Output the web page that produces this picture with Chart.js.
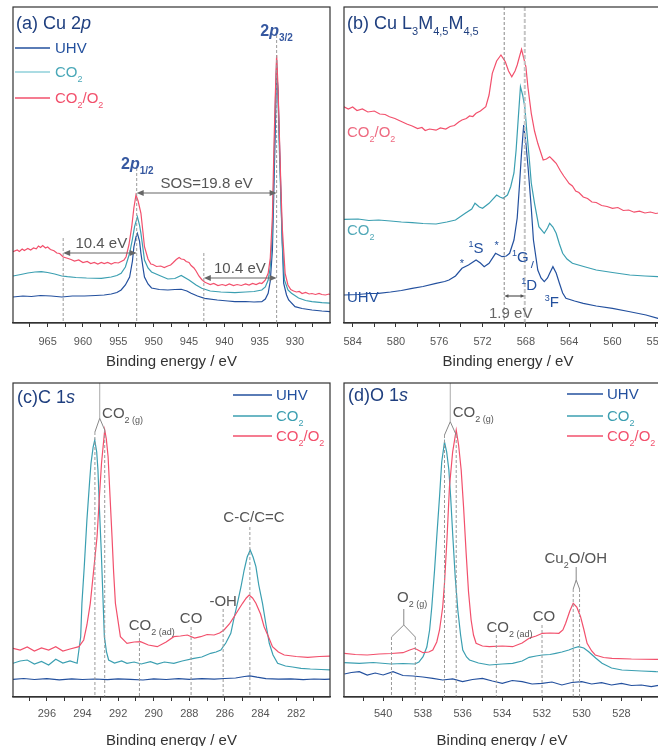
<!DOCTYPE html>
<html>
<head>
<meta charset="utf-8">
<script src="https://cdn.jsdelivr.net/npm/chart.js@4.4.1/dist/chart.umd.min.js"></script>
<style>
html, body { margin: 0; padding: 0; background: #fff; overflow: hidden; width: 658px; height: 746px; }
.panel { position: absolute; }
</style>
</head>
<body>
<div class="panel" style="left:0;top:0"><canvas id="pa" width="340" height="372"></canvas></div>
<div class="panel" style="left:330px;top:0"><canvas id="pb" width="360" height="372"></canvas></div>
<div class="panel" style="left:0;top:372px"><canvas id="pc" width="340" height="376"></canvas></div>
<div class="panel" style="left:330px;top:372px"><canvas id="pd" width="360" height="376"></canvas></div>
<script>
// series labels
var seriesNames = ['UHV', 'CO2', 'CO2/O2'];

// (a) Cu 2p  [binding energy eV, intensity a.u.]
var cu2pUhv = [[969.9,26],[968.5,27],[967.3,26.5],[966.0,27.5],[964.5,27],[963.0,26],[961.5,27],[959.8,27],[958.2,27.5],[957.0,28],[956.0,29],[955.2,30.5],[954.6,33],[954.0,38],[953.4,46],[953.0,62],[952.8,76],[952.5,86],[952.3,89.7],[952.0,82],[951.8,69.7],[951.5,55],[951.3,46],[950.8,39],[950.3,35],[949.2,33.5],[948.0,33],[947.0,33.5],[946.1,33.7],[945.3,32],[944.7,29.7],[943.8,27],[942.8,24.7],[941.0,23],[939.5,22],[938.5,21.3],[937.0,21.5],[935.8,21],[934.7,21.3],[934.2,24],[933.8,29.7],[933.5,42],[933.2,73],[933.0,130],[932.8,189.7],[932.6,256],[932.4,230],[932.1,156],[931.8,80],[931.6,39.7],[931.2,28],[930.9,23],[930.0,16.3],[929.0,14.5],[927.6,13],[926.2,12],[924.7,11.3]];
var cu2pCo2 = [[969.9,47],[968.8,48.5],[967.8,50],[966.8,51],[965.9,51.3],[965.0,50.5],[964.0,49],[963.0,47],[962.2,46.3],[961.0,45.5],[959.5,45],[957.4,44.7],[956.0,46],[955.2,47.5],[954.6,49.7],[954.0,56],[953.4,69.7],[953.0,84],[952.7,96.3],[952.3,106.3],[952.0,98],[951.8,89.7],[951.5,74],[951.3,63],[950.8,55],[950.3,51],[949.0,47],[948.0,44],[947.0,44.5],[946.1,47.5],[945.0,43],[944.0,38],[943.2,34.7],[942.0,32],[940.5,31],[938.5,30.3],[937.0,31],[935.8,31.5],[934.7,33],[934.2,36],[933.8,43],[933.5,56],[933.2,89.7],[933.0,150],[932.8,215],[932.6,263],[932.4,225],[932.2,170],[932.0,123],[931.8,80],[931.5,43],[931.0,33],[930.5,29.7],[929.5,25],[928.5,22.5],[927.6,21.3],[926.2,20.3],[924.7,19.7]];
var cu2pCo2O2 = [[969.9,71.3],[969.3,73],[969.0,71.5],[968.6,74],[968.3,72.5],[967.8,74.5],[967.4,73],[967.0,75],[966.6,74.2],[966.3,77],[966.0,75.5],[965.7,77.5],[965.3,75],[965.0,76],[964.6,73.5],[964.1,72.3],[963.7,70],[963.3,69.5],[962.8,66],[962.2,64.7],[961.7,63.5],[961.2,62],[960.6,63],[960.0,60.5],[959.4,61.5],[958.9,59.5],[958.4,60.5],[957.9,59],[957.4,60.5],[957.0,59.5],[956.5,60.5],[956.0,59],[955.5,60.5],[955.0,60],[954.6,61.5],[954.2,63],[953.9,66.3],[953.5,78],[953.1,96.3],[952.8,115],[952.5,128],[952.2,122],[951.8,109.7],[951.5,90],[951.3,76.3],[950.8,64],[950.4,59],[950.1,58.5],[949.6,56.5],[949.0,57],[948.5,55.5],[948.0,57],[947.6,58],[947.3,60],[946.8,63.5],[946.4,65.5],[946.1,64],[945.7,63.5],[945.4,61.5],[945.0,60.5],[944.7,57.5],[944.3,55],[944.0,52],[943.6,47],[943.2,43.5],[942.8,41],[942.5,40],[942.0,38.5],[941.5,39.5],[940.9,37.5],[940.3,38.5],[939.8,37.5],[939.3,39],[938.7,37.5],[938.2,38.5],[937.6,37.5],[937.0,39],[936.5,38],[936.0,39.5],[935.5,38.5],[935.0,40],[934.7,39.5],[934.4,41.5],[934.2,43],[933.8,49.7],[933.5,65],[933.2,106.3],[933.0,170],[932.8,225],[932.6,268],[932.4,235],[932.2,185],[932.0,136.3],[931.8,95],[931.4,49.7],[931.0,38],[930.6,33.5],[930.2,32],[929.8,31],[929.4,31.5],[929.0,29.5],[928.5,30.5],[928.0,29],[927.6,29.5],[927.1,28.5],[926.6,29.5],[926.2,28.5],[925.7,28],[925.2,29],[924.7,28]];

// (b) Cu L3M4,5M4,5
var lmmUhv = [[584.8,28],[583.5,28.5],[582.5,29.5],[581.6,29.7],[580.5,31],[579.5,32.5],[578.5,34.7],[577.5,36.5],[576.3,39.7],[575.5,41.5],[575.1,43],[574.5,47],[573.9,54.7],[573.3,58],[572.6,63],[572.2,60],[571.85,56.3],[571.4,59.7],[570.8,69.7],[570.5,68],[570.2,66.3],[569.8,67],[569.5,69.7],[569.1,83],[568.8,105],[568.6,136.3],[568.4,170],[568.2,198],[568.0,180],[567.8,156.3],[567.5,115],[567.3,83],[566.9,53],[566.6,45],[566.3,41.3],[566.0,45],[565.8,49.7],[565.5,56.3],[565.2,50],[564.9,39.7],[564.6,30],[564.3,24.7],[563.5,22],[562.7,19.7],[561.5,17],[560.0,14.7],[558.5,11.5],[556.9,8],[555.8,4.7],[554.5,2.5]];
var lmmCo2 = [[584.8,103.7],[583.5,104],[582.5,102.5],[581.6,103],[580.5,102],[579.5,101],[578.5,100.3],[577.5,99.5],[576.3,99],[575.3,101],[574.5,103],[573.6,109.7],[573.0,114],[572.7,119.7],[572.3,116],[572.0,114.7],[571.4,119.7],[570.7,128],[570.4,126],[570.1,124.7],[569.7,128],[569.4,136.3],[569.1,150],[568.9,173],[568.7,205],[568.5,236.3],[568.3,228],[568.1,216.3],[567.9,190],[567.7,166.3],[567.5,140],[567.2,119.7],[566.8,96.3],[566.3,89.7],[566.0,95],[565.8,99.7],[565.5,96],[565.2,89.7],[564.9,79],[564.6,69.7],[564.2,64],[563.7,59.7],[562.5,56],[561.5,53],[560.0,50.5],[558.4,48],[557.0,47],[555.8,46.3],[554.5,45.5]];
var lmmCo2O2 = [[584.8,216.3],[584.4,214],[584.0,216],[583.6,212.5],[583.1,214],[582.6,211],[582.0,212],[581.5,209],[581.0,208.5],[580.6,206.3],[580.1,204.5],[579.5,201.5],[579.0,199],[578.5,197],[578.0,194.5],[577.6,195.5],[577.3,192.5],[576.9,194],[576.3,192.8],[575.9,195],[575.4,194],[575.0,196.5],[574.6,197.5],[574.2,201],[573.9,203],[573.5,204.5],[573.2,207],[572.9,206.5],[572.6,209.7],[572.2,212],[571.7,216.3],[571.4,228],[571.1,249.7],[570.7,262],[570.3,268],[569.9,261.3],[569.6,252],[569.3,246.3],[569.0,252],[568.8,258],[568.6,266],[568.4,273.7],[568.2,265],[568.0,256.3],[567.8,235],[567.5,209.7],[567.2,192],[566.9,179.7],[566.4,163],[566.1,164],[565.8,166.3],[565.5,163],[565.2,159.7],[564.8,152],[564.5,147],[564.3,144],[564.0,139.5],[563.7,137],[563.4,132],[563.1,130.5],[562.7,126],[562.3,124.5],[561.9,121],[561.5,120.5],[561.0,117.5],[560.5,116.5],[560.0,114.7],[559.5,115.5],[559.0,112.5],[558.5,113],[558.0,110.8],[557.5,111.8],[557.0,110],[556.5,111],[556.0,109.5],[555.5,110.5],[555.0,109.5],[554.5,109]];

// (c) C 1s
var c1sUhv = [[297.9,17.7],[297.3,18.5],[296.7,17.5],[296.0,18.3],[295.3,17.2],[294.6,18.2],[294.0,17.5],[293.3,18.0],[292.6,17.3],[292.0,18.2],[291.3,17.6],[290.6,17.0],[290.0,18.1],[289.3,17.5],[288.6,18.3],[288.0,17.6],[287.3,18.4],[286.6,17.8],[286.0,18.5],[285.4,19.0],[284.9,20.5],[284.6,21.2],[284.2,19.8],[283.7,18.4],[283.0,17.8],[282.3,18.2],[281.6,17.4],[281.0,18.0],[280.4,17.6],[280.0,18.0]];
var c1sCo2 = [[297.9,33.7],[297.5,36],[297.1,37],[296.7,33],[296.3,35.5],[295.9,32],[295.5,37.7],[295.1,34],[294.7,36],[294.3,33.7],[294.1,60],[294.03,93.7],[293.9,130],[293.75,177],[293.6,215],[293.52,233.7],[293.4,250],[293.31,257],[293.2,245],[293.13,227],[293.05,190],[292.94,143.7],[292.85,100],[292.77,60.3],[292.65,45],[292.53,37],[292.2,34],[291.8,36],[291.5,33.7],[291.1,35],[290.7,33],[290.18,35.3],[289.8,33],[289.4,35],[288.87,33.7],[288.4,36],[287.74,38.7],[287.3,40],[286.8,43.7],[286.5,45],[286.23,47],[285.95,54],[285.67,63.7],[285.5,78],[285.3,93.7],[285.1,110],[284.92,127],[284.75,140],[284.58,147],[284.42,140],[284.26,130.3],[284.1,112],[283.89,93.7],[283.7,73],[283.51,53.7],[283.3,42],[283.04,33.7],[282.6,31],[282.2,30],[281.73,28.7],[281.2,28],[280.6,27.5],[280.0,27]];
var c1sCo2O2 = [[297.9,48.7],[297.5,47],[297.1,50],[296.7,46],[296.3,49],[295.9,47],[295.5,50.3],[295.1,46],[294.7,48],[294.2,50.3],[293.93,57],[293.75,72],[293.56,93.7],[293.38,125],[293.18,160.3],[293.05,200],[292.93,233.7],[292.75,267],[292.66,258],[292.56,240.3],[292.45,200],[292.34,160.3],[292.25,125],[292.15,93.7],[291.87,60.3],[291.5,53.7],[291.1,55],[290.74,55.3],[290.3,52],[289.8,50.3],[289.3,55],[288.87,60.3],[288.5,61],[288.11,62],[287.7,59],[287.36,60.3],[287.0,62.5],[286.61,62],[286.3,64],[286.05,67],[285.75,73],[285.48,80.3],[285.25,87],[285.01,93.7],[284.8,99],[284.64,102],[284.45,99],[284.26,93.7],[284.0,83],[283.8,70.3],[283.55,60],[283.33,50.3],[283.0,45],[282.67,42],[282.0,40.5],[281.35,39.7],[280.7,40.5],[280.0,41]];

// (d) O 1s
var o1sUhv = [[541.95,23],[541.6,24.5],[541.2,25.3],[540.8,22],[540.4,24],[540.0,22],[539.5,25.3],[539.0,21.5],[538.5,21],[538.0,20],[537.5,18.7],[537.0,17],[536.5,18.2],[536.0,15.3],[535.5,17.5],[535.0,18.7],[534.5,16],[534.0,13.7],[533.5,16.5],[533.0,15.3],[532.5,13],[532.0,13.7],[531.5,15],[531.0,12],[530.5,14.5],[530.0,15.3],[529.5,13],[529.0,14.3],[528.5,12],[528.0,13.7],[527.5,11.5],[527.0,12],[526.5,10.3],[526.0,12],[525.1,11]];
var o1sCo2 = [[541.95,34.3],[541.2,33.7],[540.5,34.5],[539.6,33],[539.0,33.5],[538.4,33],[538.2,35],[537.99,40.3],[537.8,50],[537.66,67],[537.55,90],[537.41,127],[537.3,160],[537.16,200.3],[537.05,235],[536.91,255],[536.8,245],[536.69,227],[536.6,200],[536.49,160.3],[536.37,120],[536.24,87],[536.1,62],[535.99,47],[535.8,40],[535.65,37],[535.2,34],[534.65,32],[534.0,33],[533.48,33.7],[533.0,36],[532.65,39.7],[532.3,41],[531.98,42],[531.6,42.5],[531.31,43.7],[531.0,45],[530.65,47],[530.4,49],[530.15,50.3],[529.9,49],[529.65,45.3],[529.3,39],[528.98,33.7],[528.5,29],[527.98,27],[527.0,26],[526.26,25.3],[525.1,25]];
var o1sCo2O2 = [[541.95,43.7],[541.4,42.5],[540.8,42],[540.2,43],[539.6,43.5],[539.0,44.3],[538.66,47],[538.41,48.7],[538.2,46.5],[537.99,44.3],[537.7,45],[537.5,47],[537.3,55],[537.16,67],[537.0,90],[536.91,113.7],[536.78,160],[536.66,210.3],[536.5,245],[536.32,267],[536.2,252],[536.07,227],[535.95,190],[535.82,143.7],[535.7,105],[535.57,77],[535.45,62],[535.32,53.7],[535.0,51],[534.65,50.3],[534.0,51],[533.48,50.3],[533.0,54],[532.65,58.7],[532.3,61],[531.98,63.7],[531.6,64],[531.15,63.7],[530.95,67],[530.81,73.7],[530.6,86],[530.43,93.7],[530.25,90],[530.06,80.3],[529.9,68],[529.73,53.7],[529.5,46],[529.32,42],[528.9,39.5],[528.48,38.7],[527.5,38],[526.26,37.7],[525.1,37.5]];

var FONT = '"Liberation Sans", Arial, sans-serif';
var BLUE = '#23509e', TEAL = '#3b9fb1', RED = '#f2506c';
var TITLE = '#1f3f7f', GRAY = '#555', DASH = '#9a9a9a';

// simple rich text: _{sub} ^{sup} |italic|
function richText(ctx, str, x, y, size, color, align, bold) {
  var parts = [], re = /_\{([^}]*)\}|\^\{([^}]*)\}|\|([^|]*)\||([^_^|]+)/g, m;
  while ((m = re.exec(str))) {
    if (m[1] != null) parts.push({t: m[1], k: 'sub'});
    else if (m[2] != null) parts.push({t: m[2], k: 'sup'});
    else if (m[3] != null) parts.push({t: m[3], k: 'it'});
    else parts.push({t: m[4], k: ''});
  }
  function f(p) {
    var s = (p.k === 'sub' || p.k === 'sup') ? Math.round(size * 0.62) : size;
    return (p.k === 'it' ? 'italic ' : '') + (bold ? 'bold ' : '') + s + 'px ' + FONT;
  }
  var w = 0;
  parts.forEach(function (p) { ctx.font = f(p); p.w = ctx.measureText(p.t).width; w += p.w; });
  var cx = align === 'center' ? x - w / 2 : (align === 'right' ? x - w : x);
  var base = y + size * 0.36;
  ctx.save();
  ctx.fillStyle = color;
  ctx.textBaseline = 'alphabetic';
  ctx.textAlign = 'left';
  parts.forEach(function (p) {
    ctx.font = f(p);
    var dy = p.k === 'sub' ? size * 0.3 : (p.k === 'sup' ? -size * 0.42 : 0);
    ctx.fillText(p.t, cx, base + dy);
    cx += p.w;
  });
  ctx.restore();
}

function tools(chart) {
  var ctx = chart.ctx, xs = chart.scales.x, ys = chart.scales.y;
  var X = function (e) { return xs.getPixelForValue(e); };
  var Y = function (v) { return ys.getPixelForValue(v); };
  return {
    ctx: ctx, X: X, Y: Y, area: chart.chartArea,
    vline: function (e, v0, v1, color, width, dash) {
      ctx.save();
      ctx.strokeStyle = color || DASH;
      ctx.lineWidth = width || 1;
      ctx.setLineDash(dash || [3, 2]);
      ctx.beginPath(); ctx.moveTo(X(e), Y(v0)); ctx.lineTo(X(e), Y(v1)); ctx.stroke();
      ctx.restore();
    },
    seg: function (e0, v0, e1, v1, color) {
      ctx.save();
      ctx.strokeStyle = color || DASH; ctx.lineWidth = 1;
      ctx.beginPath(); ctx.moveTo(X(e0), Y(v0)); ctx.lineTo(X(e1), Y(v1)); ctx.stroke();
      ctx.restore();
    },
    arrow: function (e0, e1, v, color, head) {
      var x0 = X(e0), x1 = X(e1), y = Y(v), hs = head || 5;
      ctx.save();
      ctx.strokeStyle = color || '#666'; ctx.fillStyle = color || '#666'; ctx.lineWidth = 1.2;
      ctx.beginPath(); ctx.moveTo(x0 + hs, y); ctx.lineTo(x1 - hs, y); ctx.stroke();
      ctx.beginPath(); ctx.moveTo(x0, y); ctx.lineTo(x0 + hs * 1.4, y - hs * 0.6); ctx.lineTo(x0 + hs * 1.4, y + hs * 0.6); ctx.fill();
      ctx.beginPath(); ctx.moveTo(x1, y); ctx.lineTo(x1 - hs * 1.4, y - hs * 0.6); ctx.lineTo(x1 - hs * 1.4, y + hs * 0.6); ctx.fill();
      ctx.restore();
    },
    text: function (s, e, v, size, color, align, bold) { richText(ctx, s, X(e), Y(v), size, color, align, bold); },
    legend: function (x0, x1, tx, ys2, datasets) {
      datasets.forEach(function (ds, i) {
        ctx.save();
        ctx.strokeStyle = ds.legendColor || ds.borderColor; ctx.lineWidth = 1.6;
        ctx.beginPath(); ctx.moveTo(x0, ys2[i]); ctx.lineTo(x1, ys2[i]); ctx.stroke();
        ctx.restore();
        richText(ctx, ds.richLabel, tx, ys2[i], 15, ds.textColor || ds.borderColor, 'left');
      });
    }
  };
}

function makePanel(id, cfg) {
  var colors = [BLUE, TEAL, RED];
  var rich = ['UHV', 'CO_{2}', 'CO_{2}/O_{2}'];
  var datasets = cfg.series.map(function (s, i) {
    return {
      label: seriesNames[i], richLabel: rich[i],
      data: s.map(function (p) { return {x: p[0], y: p[1]}; }),
      borderColor: colors[i], borderWidth: 1.2, pointRadius: 0, tension: 0, fill: false,
      legendColor: cfg.legendColors ? cfg.legendColors[i] : null,
      textColor: cfg.textColors ? cfg.textColors[i] : null
    };
  });
  datasets.reverse(); // draw CO2/O2 first, UHV on top
  return new Chart(document.getElementById(id), {
    type: 'line',
    data: {datasets: datasets},
    options: {
      responsive: false, animation: false, devicePixelRatio: 1,
      layout: {padding: cfg.padding},
      plugins: {legend: {display: false}, tooltip: {enabled: false}},
      scales: {
        x: {
          type: 'linear', reverse: true, min: cfg.xMin, max: cfg.xMax,
          afterFit: function (s) { s.height = cfg.axisH; },
          grid: {drawOnChartArea: false, tickLength: 4, color: '#333', tickColor: '#333'},
          border: {display: true, color: '#333', width: 1.2},
          ticks: {
            stepSize: cfg.minor, includeBounds: false, autoSkip: false, maxRotation: 0,
            padding: cfg.tickPad, color: '#555', font: {family: FONT, size: 11},
            callback: function (v) {
              var r = v / cfg.major;
              return Math.abs(r - Math.round(r)) < 1e-6 ? String(Math.round(v)) : '';
            }
          },
          title: {display: true, text: 'Binding energy / eV', color: '#333',
                  font: {family: FONT, size: 15, lineHeight: 1}, padding: {top: 0, bottom: cfg.titlePad}}
        },
        y: {display: false, min: 0, max: cfg.yMax}
      }
    },
    plugins: [{
      id: 'decor' + id,
      afterDatasetsDraw: function (chart) {
        var t = tools(chart), a = chart.chartArea, ctx = chart.ctx;
        cfg.draw(t, a, chart.data.datasets.slice().reverse());
        ctx.save();
        ctx.strokeStyle = '#333'; ctx.lineWidth = 1.2;
        ctx.strokeRect(a.left, a.top, a.right - a.left, a.bottom - a.top);
        ctx.restore();
      }
    }]
  });
}

makePanel('pa', {
  series: [cu2pUhv, cu2pCo2, cu2pCo2O2],
  xMin: 925.05, xMax: 969.9, major: 5, minor: 2.5, yMax: 316,
  padding: {left: 13, right: 10, top: 7, bottom: 0}, axisH: 49, tickPad: 8, titlePad: 2.5,
  legendColors: [BLUE, '#8fd0da', RED], textColors: [BLUE, '#4aa8b8', RED],
  draw: function (t, a, ds) {
    t.vline(952.4, 155, 0); t.vline(932.6, 288, 0); t.vline(962.8, 85, 0); t.vline(942.9, 70, 0);
    t.arrow(952.4, 932.6, 130);
    t.text('SOS=19.8 eV', 942.5, 140, 15, GRAY, 'center');
    t.arrow(962.8, 952.4, 70);
    t.text('10.4 eV', 957.4, 80, 15, GRAY, 'center');
    t.arrow(942.9, 932.6, 45);
    t.text('10.4 eV', 937.8, 55, 15, GRAY, 'center');
    t.text('2|p|_{3/2}', 932.6, 293, 16, '#3658a0', 'center', true);
    t.text('2|p|_{1/2}', 952.3, 160, 16, '#3658a0', 'center', true);
    richText(t.ctx, '(a) Cu 2|p|', a.left + 3, a.top + 16, 18, TITLE, 'left');
    t.legend(a.left + 2, a.left + 37, a.left + 42, [a.top + 41, a.top + 65, a.top + 91], ds);
  }
});

makePanel('pb', {
  series: [lmmUhv, lmmCo2, lmmCo2O2],
  xMin: 554.5, xMax: 584.8, major: 4, minor: 2, yMax: 316,
  padding: {left: 14, right: 18, top: 7, bottom: 0}, axisH: 49, tickPad: 8, titlePad: 2.5,
  draw: function (t, a) {
    t.vline(570.0, 316, 0, '#888', 1, [3, 2]);
    t.vline(568.1, 316, 0, '#c4c4c4', 2, [4, 2]);
    richText(t.ctx, '(b) Cu L_{3}M_{4,5}M_{4,5}', a.left + 3, a.top + 16, 18, TITLE, 'left');
    richText(t.ctx, 'CO_{2}/O_{2}', a.left + 3, t.Y(191), 15, '#ee6a80', 'left');
    richText(t.ctx, 'CO_{2}', a.left + 3, t.Y(93), 15, '#52a9b8', 'left');
    richText(t.ctx, 'UHV', a.left + 3, t.Y(26), 15, BLUE, 'left');
    t.text('^{1}S', 572.6, 75, 15, BLUE, 'center');
    t.text('*', 573.9, 60, 11, BLUE, 'center');
    t.text('*', 570.7, 78, 11, BLUE, 'center');
    t.text('^{1}G', 568.5, 66, 15, BLUE, 'center');
    t.seg(567.3, 62, 567.5, 55, BLUE);
    t.text('^{1}D', 567.7, 38, 15, BLUE, 'center');
    t.text('^{3}F', 565.6, 21, 15, BLUE, 'center');
    t.arrow(570.0, 568.1, 27, '#555', 3);
    t.text('1.9 eV', 569.4, 10, 15, '#666', 'center');
  }
});

makePanel('pc', {
  series: [c1sUhv, c1sCo2, c1sCo2O2],
  xMin: 280.1, xMax: 297.9, major: 2, minor: 1, yMax: 314,
  padding: {left: 13, right: 10, top: 11, bottom: 0}, axisH: 51, tickPad: 6, titlePad: 0,
  draw: function (t, a, ds) {
    t.seg(293.03, 314, 293.03, 278.7, '#aaa');
    t.seg(293.03, 278.7, 293.3, 265, '#888');
    t.seg(293.03, 278.7, 292.75, 267, '#888');
    t.vline(293.3, 265, 0); t.vline(292.75, 267, 0);
    t.text('CO_{2 (g)}', 292.9, 284, 15, GRAY, 'left');
    t.text('C-C/C=C', 284.37, 180, 15, GRAY, 'center');
    t.vline(284.6, 170, 0);
    t.text('-OH', 286.1, 96, 15, GRAY, 'center');
    t.vline(286.1, 88, 0);
    t.text('CO', 287.9, 79, 15, GRAY, 'center');
    t.vline(287.9, 70, 0);
    t.text('CO_{2 (ad)}', 291.4, 72, 15, GRAY, 'left');
    t.vline(290.8, 64, 0);
    richText(t.ctx, '(c)C 1|s|', a.left + 4, a.top + 14, 18, TITLE, 'left');
    t.legend(a.left + 220, a.left + 259, a.left + 263, [a.top + 12, a.top + 33, a.top + 53], ds);
  }
});

makePanel('pd', {
  series: [o1sUhv, o1sCo2, o1sCo2O2],
  xMin: 526.06, xMax: 541.97, major: 2, minor: 1, yMax: 314,
  padding: {left: 14, right: 30, top: 11, bottom: 0}, axisH: 51, tickPad: 6, titlePad: 0,
  draw: function (t, a, ds) {
    t.seg(536.62, 314, 536.62, 275.3, '#aaa');
    t.seg(536.62, 275.3, 536.91, 262, '#888');
    t.seg(536.62, 275.3, 536.32, 262, '#888');
    t.vline(536.91, 262, 0); t.vline(536.32, 262, 0);
    t.text('CO_{2 (g)}', 536.5, 285, 15, GRAY, 'left');
    t.text('Cu_{2}O/OH', 530.3, 139, 15, GRAY, 'center');
    t.seg(530.28, 130, 530.28, 117, '#888');
    t.seg(530.28, 117, 530.43, 108, '#888');
    t.seg(530.28, 117, 530.11, 108, '#888');
    t.vline(530.43, 108, 0); t.vline(530.11, 108, 0);
    t.text('CO', 531.9, 81, 15, GRAY, 'center');
    t.vline(532.0, 72, 0);
    t.text('CO_{2 (ad)}', 534.8, 70, 15, GRAY, 'left');
    t.vline(534.3, 62, 0);
    t.text('O_{2 (g)}', 539.3, 100, 15, GRAY, 'left');
    t.seg(538.96, 88, 538.96, 72, '#888');
    t.seg(538.96, 72, 539.58, 60, '#888');
    t.seg(538.96, 72, 538.38, 60, '#888');
    t.vline(539.58, 60, 0); t.vline(538.38, 60, 0);
    richText(t.ctx, '(d)O 1|s|', a.left + 4, a.top + 12, 18, TITLE, 'left');
    t.legend(a.left + 223, a.left + 259, a.left + 263, [a.top + 11, a.top + 33, a.top + 53], ds);
  }
});
</script>
</body>
</html>
